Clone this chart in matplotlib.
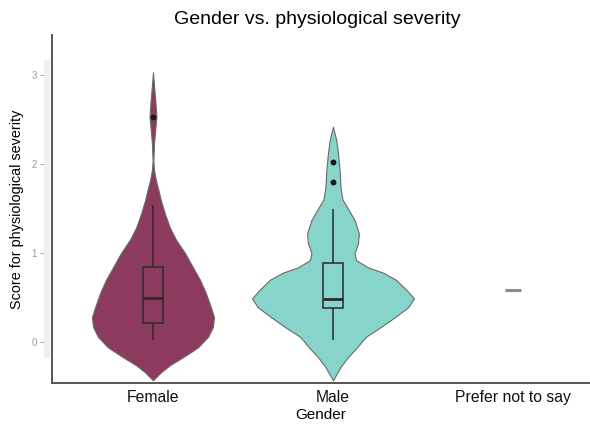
import matplotlib.pyplot as plt
from matplotlib.patches import Rectangle

plt.rcParams['font.family'] = ['Liberation Sans', 'DejaVu Sans']

categories = ['Female', 'Male', 'Prefer not to say']
fill_colors = ['#8c3a5e', '#87d4cb']

# violin outlines: score level and half width
female_levels = [-0.43, -0.34, -0.26, -0.17, -0.06, 0.06, 0.17, 0.28, 0.39, 0.55,
                 0.70, 0.84, 1.00, 1.15, 1.29, 1.45, 1.60, 1.71, 1.82, 1.93,
                 2.04, 2.24, 2.42, 2.53, 2.69, 2.83, 3.03]
female_half = [0.0, 0.044, 0.094, 0.167, 0.25, 0.306, 0.333, 0.339, 0.322, 0.294,
               0.261, 0.222, 0.178, 0.128, 0.093, 0.065, 0.043, 0.030, 0.016, 0.006,
               0.002, 0.006, 0.014, 0.019, 0.014, 0.008, 0.0]
male_levels = [-0.43, -0.28, -0.17, -0.06, 0.06, 0.17, 0.28, 0.39, 0.49, 0.58,
               0.70, 0.78, 0.84, 0.92, 1.00, 1.11, 1.22, 1.37, 1.48, 1.60,
               1.74, 1.93, 2.12, 2.27, 2.42]
male_half = [0.0, 0.042, 0.083, 0.133, 0.183, 0.267, 0.344, 0.417, 0.450, 0.411,
             0.350, 0.278, 0.194, 0.128, 0.120, 0.139, 0.144, 0.120, 0.089, 0.053,
             0.042, 0.037, 0.028, 0.018, 0.0]

# box stats: whisker low, q1, median, q3, whisker high
female_box = [0.02, 0.21, 0.49, 0.84, 1.54]
male_box = [0.02, 0.38, 0.48, 0.89, 1.50]
female_outliers = [2.53]
male_outliers = [2.02, 1.80]
prefer_value = 0.58

fig = plt.figure(figsize=(5.9, 4.28), dpi=100)
ax = fig.add_axes([52 / 590, 45 / 428, 538 / 590, 348 / 428])

violins = [(female_levels, female_half), (male_levels, male_half)]
boxes = [female_box, male_box]
outliers = [female_outliers, male_outliers]

for i, ((lv, hw), col) in enumerate(zip(violins, fill_colors)):
    left = [i - h for h in hw]
    right = [i + h for h in hw]
    ax.fill_betweenx(lv, left, right, facecolor=col, edgecolor='#6a6a6a', linewidth=0.8, zorder=2)

bw = 0.053
for i, b in enumerate(boxes):
    lo, q1, med, q3, hi = b
    ax.vlines(i, lo, q1, color='#2b2b2b', lw=1.1, zorder=3)
    ax.vlines(i, q3, hi, color='#2b2b2b', lw=1.1, zorder=3)
    ax.add_patch(Rectangle((i - bw, q1), 2 * bw, q3 - q1, facecolor='none',
                           edgecolor='#2b2b2b', lw=1.1, zorder=3))
    ax.hlines(med, i - bw, i + bw, color='#2b2b2b', lw=2.0, zorder=4)
    ax.scatter([i] * len(outliers[i]), outliers[i], s=18, color='#1a1a1a', zorder=5, linewidths=0)

# single response: flat violin
ax.hlines(prefer_value, 2 - 0.047, 2 + 0.047, color='#8a8a8a', lw=2.2, zorder=3)

ax.set_xlim(-0.561, 2.428)
ax.set_ylim(-0.46, 3.45)
ax.set_xticks(range(len(categories)))
ax.set_xticklabels(categories, fontsize=11.3, color='#111111')
ax.set_yticks([0, 1, 2, 3])
ax.tick_params(axis='x', length=0, pad=5)
ax.tick_params(axis='y', length=3, width=0.8, color='#aaaaaa', labelcolor='#999999',
               labelsize=7, pad=2)

for s in ['top', 'right']:
    ax.spines[s].set_visible(False)
ax.spines['bottom'].set_color('#555555')
ax.spines['bottom'].set_linewidth(1.4)
ax.spines['left'].set_position(('outward', 6))
ax.spines['left'].set_color('none')
ax.plot([0, 0], [0, 1], transform=ax.transAxes, color='#555555', lw=1.4, clip_on=False, zorder=6)

ax.set_xlabel('Gender', fontsize=11, labelpad=2)
ax.set_ylabel('Score for physiological severity', fontsize=10.4, labelpad=5)
fig.text(317 / 590, 1 - 20 / 428, 'Gender vs. physiological severity', fontsize=14,
         ha='center', va='center')

# faint strip left over from the original panel
fig.patches.append(Rectangle((44 / 590, 70 / 428), 6 / 590, 298 / 428,
                             transform=fig.transFigure, facecolor='#efefef',
                             edgecolor='none', zorder=0))

fig.savefig('out.png', dpi=100)
